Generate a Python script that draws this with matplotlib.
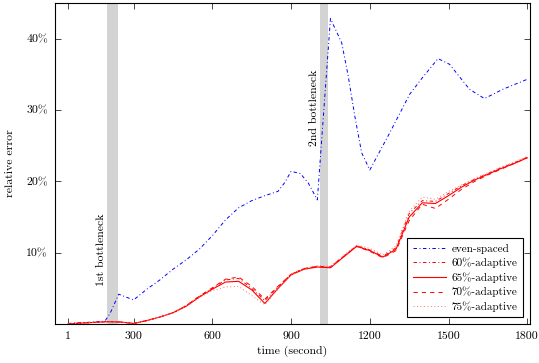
import numpy as np
import matplotlib
matplotlib.use('Agg')
from matplotlib import pyplot as plt

plt.rcParams['font.family'] = ['cmr10', 'DejaVu Serif']
plt.rcParams['mathtext.fontset'] = 'cm'
plt.rcParams['axes.formatter.use_mathtext'] = True
plt.rcParams['lines.scale_dashes'] = False

# time (seconds)
t_even = [50, 100, 150, 190, 210, 243, 270, 300, 350, 400, 450, 500, 550, 600, 650, 700,
          750, 800, 850, 875, 900, 935, 965, 1000, 1050, 1093, 1118, 1143, 1169, 1200,
          1276, 1352, 1400, 1460, 1504, 1580, 1637, 1707, 1800]
even_spaced = [0.1, 0.2, 0.3, 0.4, 1.5, 4.2, 3.8, 3.4, 4.9, 6.2, 7.7, 9.0, 10.5, 12.4, 14.6, 16.3,
               17.3, 18.0, 18.6, 19.8, 21.4, 21.1, 19.8, 17.4, 42.8, 39.4, 34.7, 29.1, 24.0, 21.6,
               26.8, 32.2, 34.5, 37.2, 36.4, 32.9, 31.6, 32.9, 34.3]

t = [50, 100, 150, 200, 250, 300, 350, 400, 450, 500, 550, 600, 650, 700, 750, 800, 850, 900,
     950, 1000, 1050, 1100, 1150, 1200, 1250, 1300, 1350, 1400, 1450, 1500, 1550, 1600, 1650,
     1700, 1750, 1800]
ad65 = [0.05, 0.15, 0.25, 0.35, 0.3, 0.1, 0.5, 1.0, 1.6, 2.5, 3.8, 4.9, 5.9, 6.0, 4.8, 2.9, 5.0, 6.9,
        7.7, 8.0, 7.9, 9.4, 10.9, 10.3, 9.4, 10.5, 15.0, 17.0, 16.9, 18.0, 19.2, 20.2, 21.0,
        21.8, 22.5, 23.3]
ad60 = [0.05, 0.15, 0.25, 0.35, 0.3, 0.1, 0.5, 1.0, 1.6, 2.6, 3.9, 5.0, 6.2, 6.4, 5.0, 3.3, 5.2, 7.0,
        7.8, 8.1, 8.0, 9.5, 11.0, 10.4, 9.5, 10.7, 15.5, 17.3, 17.2, 18.3, 19.4, 20.3, 21.1,
        21.9, 22.6, 23.4]
ad70 = [0.05, 0.15, 0.25, 0.35, 0.3, 0.1, 0.5, 1.0, 1.6, 2.6, 3.9, 5.1, 6.3, 6.6, 5.3, 3.5, 5.3, 7.0,
        7.8, 8.1, 8.0, 9.5, 10.9, 10.2, 9.3, 10.3, 14.5, 16.8, 16.2, 17.5, 18.9, 20.0, 20.9,
        21.7, 22.5, 23.3]
ad75 = [0.05, 0.15, 0.25, 0.35, 0.3, 0.1, 0.5, 1.0, 1.6, 2.5, 3.7, 4.7, 5.2, 5.3, 4.0, 2.7, 4.9, 6.9,
        7.8, 8.2, 8.1, 9.6, 11.1, 10.6, 9.7, 11.0, 15.8, 17.8, 17.5, 18.6, 19.5, 20.4, 21.2,
        22.0, 22.7, 23.5]

bottlenecks = [(200, 240), (1010, 1040)]
xticks = [50, 300, 600, 900, 1200, 1500, 1800]
xticklabels = ['1', '300', '600', '900', '1200', '1500', '1800']
yticks = [10, 20, 30, 40]

fig = plt.figure(figsize=(5.39, 3.63), dpi=100)
ax = fig.add_axes([0.102, 0.107, 0.881, 0.885])

for a, b in bottlenecks:
    ax.axvspan(a, b, color='#d3d3d3', lw=0, zorder=0)

lw = 0.7
ax.plot(t_even, even_spaced, color='blue', lw=lw, ls=(0, (2.5, 1.8, 0.7, 1.8)), label='even-spaced')
ax.plot(t, ad60, color='red', lw=lw, ls=(0, (2.5, 1.8, 0.7, 1.8)), label='60%-adaptive')
ax.plot(t, ad65, color='red', lw=0.8, ls='-', label='65%-adaptive')
ax.plot(t, ad70, color='red', lw=lw, ls=(0, (3, 3)), label='70%-adaptive')
ax.plot(t, ad75, color='#ff7070', lw=lw, ls=(0, (0.7, 1.8)), label='75%-adaptive')

fs = 8.5
ax.text(178, 5.3, '1st bottleneck', rotation=90, ha='center', va='bottom', fontsize=fs)
ax.text(990, 25.0, '2nd bottleneck', rotation=90, ha='center', va='bottom', fontsize=fs)

ax.set_xlim(0, 1810)
ax.set_ylim(0, 45)
ax.set_xticks(xticks)
ax.set_xticklabels(xticklabels)
ax.set_yticks(yticks)
ax.set_yticklabels([f'{v}%' for v in yticks])
ax.tick_params(direction='in', top=True, right=True, labelsize=fs, length=4, width=0.5, pad=5)
for s in ax.spines.values():
    s.set_linewidth(0.8)

ax.set_xlabel('time (second)', fontsize=fs, labelpad=4)
ax.set_ylabel('relative error', fontsize=fs, labelpad=8)

leg = ax.legend(loc='lower right', fontsize=fs - 0.5, frameon=True, fancybox=False,
                edgecolor='black', framealpha=1, borderaxespad=0.6,
                handlelength=3.0, labelspacing=0.35, borderpad=0.5, handletextpad=0.5)
leg.get_frame().set_linewidth(0.8)

fig.savefig('out.png', dpi=100)
